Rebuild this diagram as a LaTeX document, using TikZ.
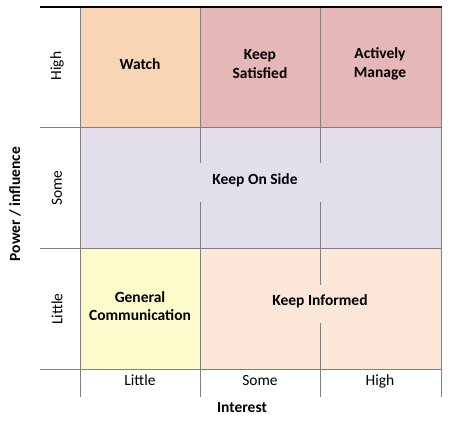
\documentclass[tikz,border=0pt]{standalone}
\usepackage{fontspec}
\setmainfont{Carlito}
\begin{document}
\begin{tikzpicture}[x=1pt,y=-1pt,
  grid/.style={draw=black!50,line width=1pt},
  cell/.style={font=\fontsize{15.5}{18.5}\selectfont\bfseries,align=center,text=black},
  axlab/.style={font=\fontsize{15.5}{18}\selectfont,text=black,anchor=base},
  raxlab/.style={font=\fontsize{15.5}{18}\selectfont,text=black,rotate=90},
  title/.style={font=\fontsize{15.5}{18}\selectfont\bfseries,text=black}]
\useasboundingbox (0,0) rectangle (456,424);
% fills
\fill[fill={rgb,255:red,248;green,213;blue,180}] (80,7) rectangle (200,127);
\fill[fill={rgb,255:red,229;green,184;blue,183}] (200,7) rectangle (441,127);
\fill[fill={rgb,255:red,228;green,223;blue,236}] (80,127) rectangle (441,248);
\fill[fill={rgb,255:red,253;green,250;blue,204}] (80,248) rectangle (200,369);
\fill[fill={rgb,255:red,252;green,230;blue,215}] (200,248) rectangle (441,369);
% grid lines
\draw[grid] (40,127) -- (441,127);
\draw[grid] (40,248) -- (441,248);
\draw[grid] (40,369) -- (441,369);
\draw[grid] (80,7) -- (80,397);
\draw[grid] (441,7) -- (441,397);
\draw[grid] (200,7) -- (200,163);
\draw[grid] (200,202) -- (200,397);
\draw[grid] (320,7) -- (320,163);
\draw[grid] (320,202) -- (320,285);
\draw[grid] (320,323) -- (320,397);
\draw[black,line width=1.3pt] (40,7) -- (442,7);
% cell texts
\node[cell] (watch) at (140,64) {Watch};
\node[cell] (sat) at (260,64) {Keep\\Satisfied};
\node[cell] (man) at (380,64) {Actively\\Manage};
\node[cell] (side) at (255,180) {Keep On Side};
\node[cell] (gen) at (140,306) {General\\Communication};
\node[cell] (inf) at (320,301) {Keep Informed};
% axis labels
\node[raxlab] (rh) at (57,66) {High};
\node[raxlab] (rs) at (57,188) {Some};
\node[raxlab] (rl) at (57,309) {Little};
\node[axlab] (cl) at (140,385) {Little};
\node[axlab] (cs) at (260,385) {Some};
\node[axlab] (ch) at (380,385) {High};
\node[title,rotate=90] (py) at (15,204) {Power / influence};
\node[title] (ix) at (242,408) {Interest};
\end{tikzpicture}
\end{document}
